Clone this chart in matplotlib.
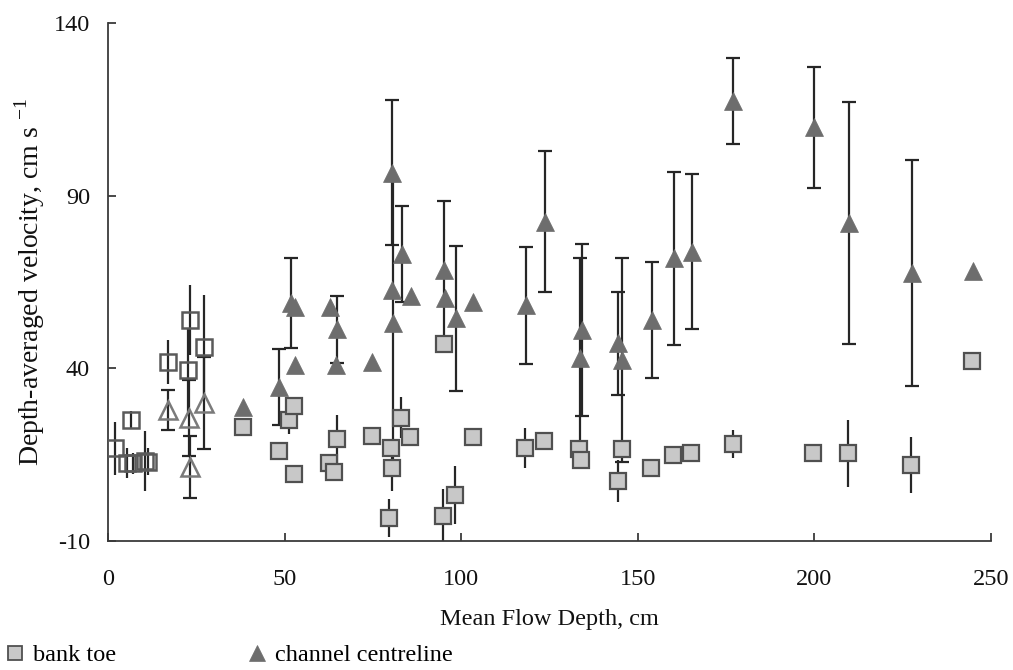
import numpy as np
import matplotlib
matplotlib.use("Agg")
import matplotlib.pyplot as plt
from matplotlib.lines import Line2D

# ---------------- data ----------------
# bank toe, early (open squares)
bt_open_x = [2.0, 6.4, 5.3, 7.2, 10.5, 11.2, 16.9, 23.2, 22.6, 27.2]
bt_open_y = [16.8, 25.0, 12.5, 12.5, 13.2, 13.0, 41.9, 54.0, 39.5, 46.3]
bt_open_e = [7.7, 2.7, 4.4, 3.0, 8.7, 4.0, 6.3, 10.0, 12.0, 15.0]

# channel centreline, early (open triangles)
cc_open_x = [16.9, 23.0, 23.2, 27.3]
cc_open_y = [27.9, 25.5, 11.5, 29.9]
cc_open_e = [5.9, 11.0, 9.0, 13.3]

# bank toe (filled squares)
bt_x = [38.1, 48.3, 51.2, 52.8, 52.8, 62.7, 64.1, 64.9, 74.7, 79.6, 80.0, 80.5,
        83.0, 85.5, 94.8, 95.2, 98.3, 103.2, 118.1, 123.5, 133.4, 133.8, 144.3,
        145.4, 153.7, 160.1, 165.0, 176.9, 199.7, 209.6, 227.4, 244.6]
bt_y = [23.1, 16.0, 25.0, 29.1, 9.4, 12.5, 9.9, 19.5, 20.5, -3.3, 17.0, 11.1,
        25.7, 20.0, -2.7, 47.0, 3.3, 20.0, 17.0, 19.0, 16.6, 13.5, 7.4,
        16.6, 11.0, 14.9, 15.4, 18.0, 15.4, 15.4, 12.0, 42.2]
bt_e = [0, 0, 4.0, 0, 0, 0, 0, 7.0, 0, 5.5, 0, 6.5,
        6.0, 0, 7.7, 0, 8.4, 0, 5.8, 1.5, 0, 0, 6.2,
        0, 1.0, 1.5, 1.0, 4.0, 1.0, 9.7, 8.2, 0]

# channel centreline (filled triangles)
cc_x = [38.3, 48.5, 51.7, 52.9, 53.0, 62.9, 64.9, 64.5, 74.8, 80.3, 80.3, 80.8,
        83.3, 85.7, 95.0, 95.4, 98.5, 103.4, 118.3, 123.6, 133.6, 134.1, 144.5,
        145.4, 153.9, 160.3, 165.3, 177.0, 199.9, 209.8, 227.5, 244.8]
cc_y = [28.7, 34.7, 59.0, 57.9, 41.0, 57.9, 51.3, 41.0, 41.7, 96.7, 62.7, 53.2,
        73.2, 61.0, 68.6, 60.3, 54.5, 59.3, 58.2, 82.5, 42.9, 51.1, 47.3,
        42.4, 54.0, 71.9, 73.8, 117.4, 109.8, 82.0, 67.7, 68.3]
cc_e = [0, 11.0, 13.0, 0, 0, 0, 9.7, 0, 0, 21.0, 0, 41.0,
        13.9, 0, 20.0, 0, 21.0, 0, 16.9, 20.3, 29.0, 24.8, 14.9,
        29.5, 16.9, 25.0, 22.5, 12.5, 17.5, 35.0, 32.7, 0]

x_ticks = [0, 50, 100, 150, 200, 250]
y_ticks = [-10, 40, 90, 140]

# ---------------- style ----------------
plt.rcParams['font.family'] = ['Liberation Serif', 'DejaVu Serif']
plt.rcParams['mathtext.fontset'] = 'custom'
plt.rcParams['mathtext.rm'] = 'Liberation Serif'
plt.rcParams['axes.unicode_minus'] = False

FS = 17.5
sq_face = '#c8c8c8'
sq_edge = '#505050'
tri_face = '#6d6d6d'
open_sq_edge = '#5a5a5a'
open_tri_edge = '#7a7a7a'
err_col = '#262626'

fig = plt.figure(figsize=(10.13, 6.70), dpi=100)
ax = fig.add_axes([108/1013, 1-541/670, 883/1013, 518/670])


def arr(*a):
    return [np.asarray(v, dtype=float) for v in a]


# error bars (drawn under markers)
x, y, e = arr(bt_open_x, bt_open_y, bt_open_e)
m = e > 0
ax.errorbar(x[m], y[m], yerr=e[m], fmt='none', ecolor=err_col, elinewidth=1.6,
            capsize=0, zorder=2)
x, y, e = arr(cc_open_x, cc_open_y, cc_open_e)
m = e > 0
ax.errorbar(x[m], y[m], yerr=e[m], fmt='none', ecolor=err_col, elinewidth=1.6,
            capsize=5, capthick=1.6, zorder=2)
x, y, e = arr(bt_x, bt_y, bt_e)
m = e > 0
ax.errorbar(x[m], y[m], yerr=e[m], fmt='none', ecolor=err_col, elinewidth=1.6,
            capsize=0, zorder=2)
x, y, e = arr(cc_x, cc_y, cc_e)
m = e > 0
ax.errorbar(x[m], y[m], yerr=e[m], fmt='none', ecolor=err_col, elinewidth=1.6,
            capsize=5, capthick=1.6, zorder=2)

# markers
ax.plot(bt_open_x, bt_open_y, 's', ms=11, mfc='none', mec=open_sq_edge, mew=1.8,
        zorder=3)
ax.plot(cc_open_x, cc_open_y, '^', ms=13, mfc='none', mec=open_tri_edge, mew=1.8,
        zorder=3)
ax.plot(bt_x, bt_y, 's', ms=11, mfc=sq_face, mec=sq_edge, mew=1.6, zorder=4)
ax.plot(cc_x, cc_y, '^', ms=13.5, mfc=tri_face, mec=tri_face, mew=0.5, zorder=4)

# axes styling
ax.set_xlim(0, 250)
ax.set_ylim(-10, 140)
ax.set_xticks(x_ticks)
ax.set_yticks(y_ticks)
for s in ['top', 'right']:
    ax.spines[s].set_visible(False)
for s in ['left', 'bottom']:
    ax.spines[s].set_color('#3a3a3a')
    ax.spines[s].set_linewidth(1.3)
ax.tick_params(axis='both', direction='in', length=6, width=1.3, color='#3a3a3a',
               labelsize=FS, labelcolor='#111111')
ax.tick_params(axis='x', pad=20)
ax.tick_params(axis='y', pad=13)

ax.set_xlabel('Mean Flow Depth, cm', fontsize=FS, color='#111111', labelpad=14)
ax.set_ylabel('Depth-averaged velocity, cm s $^{\\mathregular{-1}}$', fontsize=20,
              color='#111111', labelpad=5)

handles = [
    Line2D([], [], marker='s', ls='none', ms=10.5, mfc=sq_face, mec=sq_edge, mew=1.3),
    Line2D([], [], marker='^', ls='none', ms=12, mfc=tri_face, mec=tri_face, mew=0.5),
]
fig.legend(handles, ['bank toe', 'channel centreline'], loc='center left',
           bbox_to_anchor=(0.0, 1 - 655/670), ncol=2, frameon=False, fontsize=FS,
           handlelength=0.8, handletextpad=0.35, columnspacing=5.4,
           borderaxespad=0.0, borderpad=0.2)

fig.savefig('out.png', dpi=100)
